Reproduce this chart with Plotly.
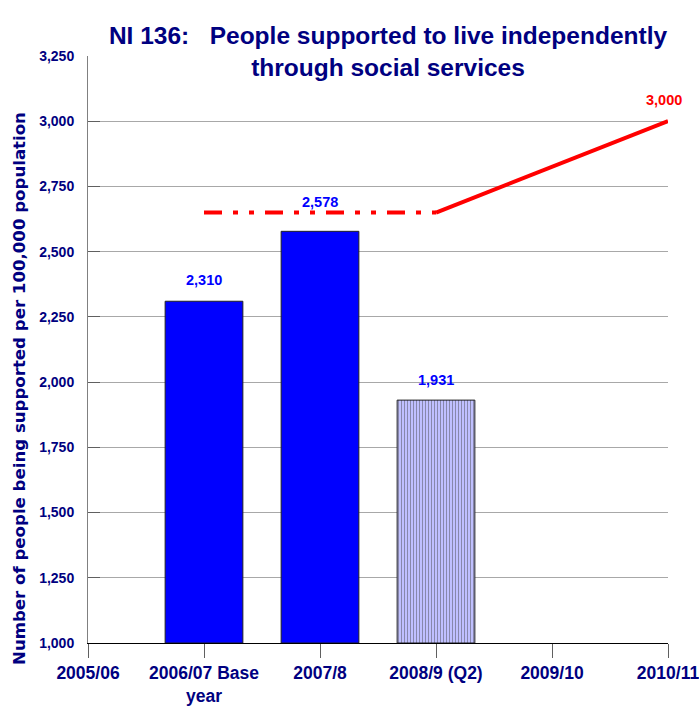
import plotly.graph_objects as go

categories = ["2005/06", "2006/07 Base<br>year", "2007/8", "2008/9 (Q2)", "2009/10", "2010/11"]
bar_values = [None, 2310, 2578, 1931, None, None]
bar_labels = ["", "2,310", "2,578", "1,931", "", ""]
target_dashed = [None, 2650, 2650, 2650, None, None]
target_solid = [None, None, None, 2650, None, 3000]
target_label_idx = 5
target_label = "3,000"
y_ticks = [1000, 1250, 1500, 1750, 2000, 2250, 2500, 2750, 3000, 3250]
y_title = "Number of people being supported per 100,000 population"

NAVY = "#000080"
FONT = "Liberation Sans, Arial, sans-serif"

bar_colors = ["#0000FF", "#0000FF", "#0000FF", "#C0C0FF", "#0000FF", "#0000FF"]
pattern_shapes = ["", "", "", "|", "", ""]
label_shifts = [21, 21, 29, 20, 21, 21]

fig = go.Figure()
fig.add_trace(go.Bar(
    x=categories, y=[None if v is None else v - 1000 for v in bar_values], base=1000,
    width=0.67,
    marker=dict(color=bar_colors, line=dict(color="#202020", width=1),
                pattern=dict(shape=pattern_shapes, fgcolor="#ADADFF", bgcolor="#C6C6FF", size=3, solidity=0.3)),
    hoverinfo="skip", showlegend=False,
))
fig.add_trace(go.Scatter(
    x=categories, y=target_dashed, mode="lines",
    line=dict(color="#FF0000", width=4, dash="18px,11px,5px,11px,5px,11px"),
    showlegend=False, hoverinfo="skip",
))
fig.add_trace(go.Scatter(
    x=categories, y=target_solid, mode="lines", connectgaps=True,
    line=dict(color="#FF0000", width=4),
    showlegend=False, hoverinfo="skip",
))

for c, v, t, s in zip(categories, bar_values, bar_labels, label_shifts):
    if v is not None:
        fig.add_annotation(x=c, y=v, text=t, showarrow=False, yshift=s,
                           font=dict(family=FONT, size=14.5, color="#0000FF", weight="bold"))
fig.add_annotation(x=categories[target_label_idx], y=target_solid[target_label_idx], text=target_label,
                   showarrow=False, yshift=21, xshift=-4,
                   font=dict(family=FONT, size=14.5, color="#FF0000", weight="bold"))

# y-axis title placed like the reference (centred lower than the plot area)
fig.add_annotation(text=y_title, textangle=-90, showarrow=False,
                   xref="paper", yref="paper", x=-(88 - 19) / 580, y=(643 - 389) / 587,
                   xanchor="center", yanchor="middle",
                   font=dict(family="DejaVu Sans", size=16.6, color=NAVY, weight="bold"))

fig.update_layout(
    width=699, height=722,
    margin=dict(l=88, r=31, t=56, b=79),
    plot_bgcolor="white", paper_bgcolor="white",
    title=dict(text="NI 136:   People supported to live independently<br>through social services",
               x=388/699, xanchor="center", xref="container",
               y=1-44/722, yanchor="middle", yref="container",
               font=dict(family=FONT, size=24.5, color=NAVY, weight="bold")),
    xaxis=dict(range=[0, 5], type="category", showline=True, linecolor="black", linewidth=1,
               ticks="outside", ticklen=14, tickcolor="#606060", showgrid=False, automargin=False,
               tickfont=dict(family=FONT, size=17.5, color=NAVY, weight="bold")),
    yaxis=dict(range=[1000, 3250], tickvals=y_ticks, ticktext=[f"{v:,}" for v in y_ticks],
               showline=True, linecolor="#808080", linewidth=1, automargin=False,
               ticks="inside", ticklen=12, tickcolor="#606060", ticklabelstandoff=10,
               showgrid=True, gridcolor="#A8A8A8", gridwidth=1, zeroline=False,
               tickfont=dict(family=FONT, size=14, color=NAVY, weight="bold")),
)

fig.write_html("out.html")
